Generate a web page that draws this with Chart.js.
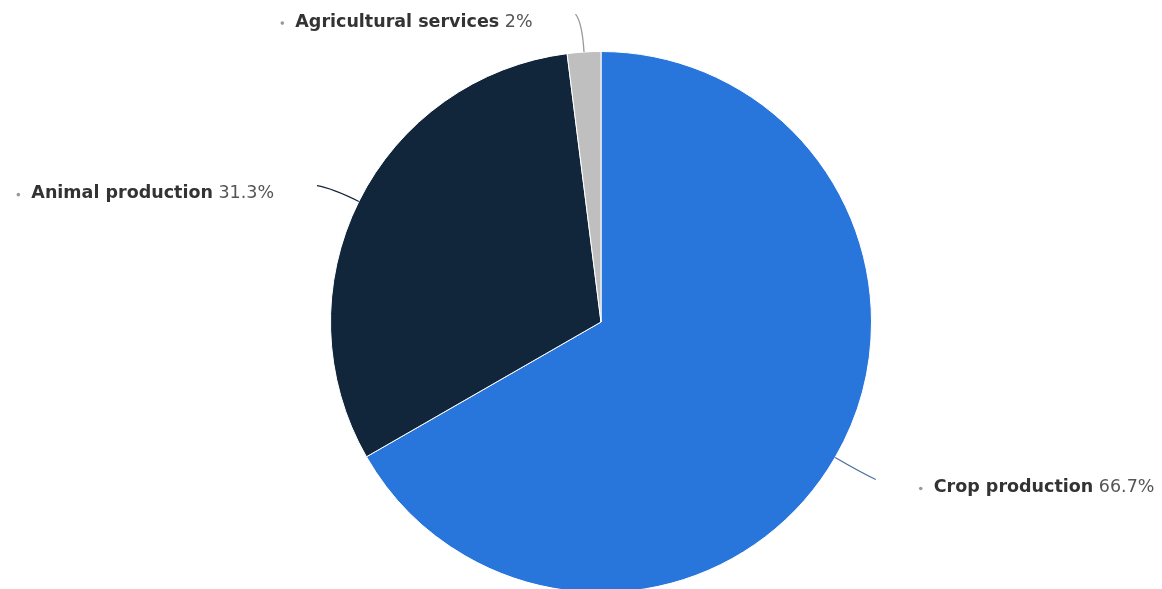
<!DOCTYPE html>
<html>
<head>
<meta charset="utf-8">
<script src="https://cdn.jsdelivr.net/npm/chart.js@4"></script>
<style>
  html, body { margin: 0; padding: 0; background: #fff; overflow: hidden; }
  #wrap { width: 1162px; height: 600px; }
</style>
</head>
<body>
<div id="wrap"><canvas id="pieChart" width="1162" height="600"></canvas></div>
<script>
const categories = ['Crop production', 'Animal production', 'Agricultural services'];
const shares = [66.7, 31.3, 2];
const valueLabels = ['66.7%', '31.3%', '2%'];
const sliceColors = ['#2876dc', '#11253b', '#bfbfbf'];
const connectorColors = ['#4a6f9e', '#11253b', '#999999'];

// draws highcharts-style outside labels with curved connectors
const outsideLabels = {
    id: 'outsideLabels',
    afterDatasetsDraw(chart) {
        const ctx = chart.ctx;
        const meta = chart.getDatasetMeta(0);
        meta.data.forEach(function(arc, i) {
            const p = arc.getProps(['x', 'y', 'startAngle', 'endAngle', 'outerRadius'], true);
            const mid = (p.startAngle + p.endAngle) / 2;
            const cos = Math.cos(mid), sin = Math.sin(mid);
            const r = p.outerRadius;
            const right = cos >= 0;
            const side = right ? 1 : -1;

            const sx = p.x + r * cos, sy = p.y + r * sin;
            const cx = p.x + (r + 30) * cos, cy = p.y + (r + 30) * sin;
            const ex = p.x + (r + 40) * cos + side * 6, ey = p.y + (r + 40) * sin + 2;

            ctx.save();
            ctx.strokeStyle = connectorColors[i];
            ctx.lineWidth = 1.3;
            ctx.beginPath();
            ctx.moveTo(sx, sy);
            ctx.quadraticCurveTo(cx, cy, ex, ey);
            ctx.stroke();

            const boldFont = 'bold 17.5px "DejaVu Sans", sans-serif';
            const normFont = '17.5px "DejaVu Sans", sans-serif';
            const name = categories[i];
            const val = ' ' + valueLabels[i];
            ctx.font = boldFont;
            const nameW = ctx.measureText(name).width;
            ctx.font = normFont;
            const valW = ctx.measureText(val).width;
            const ty = ey + 8;
            let tx;
            if (right) {
                tx = ex + 58;
            } else {
                tx = ex - 43 - nameW - valW;
            }
            ctx.textBaseline = 'middle';
            ctx.textAlign = 'left';
            ctx.fillStyle = '#999';
            ctx.beginPath();
            ctx.arc(tx - 13, ty + 1, 1.8, 0, Math.PI * 2);
            ctx.fill();
            ctx.font = boldFont;
            ctx.fillStyle = '#333';
            ctx.fillText(name, tx, ty);
            ctx.font = normFont;
            ctx.fillStyle = '#555';
            ctx.fillText(val, tx + nameW, ty);
            ctx.restore();
        });
    }
};

new Chart(document.getElementById('pieChart').getContext('2d'), {
    type: 'pie',
    data: {
        labels: categories,
        datasets: [{
            data: shares,
            backgroundColor: sliceColors,
            borderColor: '#ffffff',
            borderWidth: 1
        }]
    },
    options: {
        responsive: false,
        animation: false,
        layout: {
            padding: { top: 51, bottom: 7, left: 40, right: 0 }
        },
        plugins: {
            legend: { display: false },
            tooltip: { enabled: false }
        }
    },
    plugins: [outsideLabels]
});
</script>
</body>
</html>
